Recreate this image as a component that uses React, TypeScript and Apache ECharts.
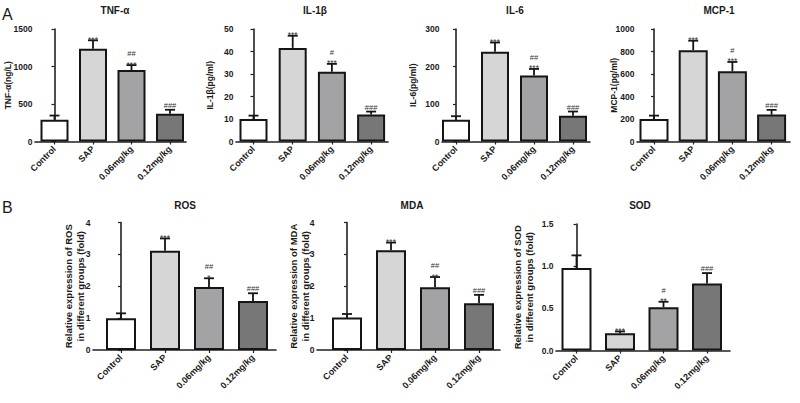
import React, { useEffect, useRef } from "react";
import * as echarts from "echarts";

// ---------- data ----------
const groups = ["Control", "SAP", "0.06mg/kg", "0.12mg/kg"];
const barColors = ["#ffffff", "#d6d6d6", "#a3a3a5", "#777777"];

const tnfMean = [290, 1237, 952, 369];
const tnfErr = [56, 112, 67, 54];
const il1bMean = [10, 41.6, 31, 12];
const il1bErr = [1.5, 5.4, 3.5, 1.3];
const il6Mean = [57.7, 239.6, 175.7, 69];
const il6Err = [9.8, 24.4, 17.8, 11];
const mcpMean = [200, 812, 624, 239];
const mcpErr = [30, 84, 83, 42];
const rosMean = [1.0, 3.11, 1.98, 1.535];
const rosErr = [0.15, 0.39, 0.27, 0.245];
const mdaMean = [1.02, 3.13, 1.97, 1.47];
const mdaErr = [0.11, 0.24, 0.32, 0.26];
const sodMean = [0.977, 0.206, 0.514, 0.795];
const sodErr = [0.151, 0.02, 0.064, 0.123];

const starsA = ["", "***", "***", ""];
const tnfHash = ["", "", "##", "###"];
const il1bHash = ["", "", "#", "###"];
const il6Hash = ["", "", "##", "###"];
const mcpHash = ["", "", "#", "###"];
const rosStars = ["", "***", "*", ""];
const rosHash = ["", "", "##", "###"];
const mdaStars = ["", "***", "**", ""];
const mdaHash = ["", "", "##", "###"];
const sodStars = ["", "***", "**", ""];
const sodHash = ["", "", "#", "###"];

const tickA1 = [0, 500, 1000, 1500];
const tickA2 = [0, 10, 20, 30, 40, 50];
const tickA3 = [0, 100, 200, 300];
const tickA4 = [0, 200, 400, 600, 800, 1000];
const tickB1 = [0, 1, 2, 3, 4];
const tickB3 = [0, 0.5, 1.0, 1.5];

// ---------- layout ----------
const FONT = 'Arial, "Liberation Sans", Helvetica, sans-serif';
const TXT = "#1a1a1a";

type Panel = {
  title: string;
  yTitle: string;
  mean: number[];
  err: number[];
  stars: string[];
  hashes: string[];
  ticks: number[];
  dec: number;
  L: number;
  R: number;
  c0: number;
  sp: number;
  top: number;
  zero: number;
  barW: number;
  tx: number;
  ty: number;
  yx: number;
  yFont: number;
};

const panels: Panel[] = [
  { title: "TNF-α", yTitle: "TNF-α(ng/L)", mean: tnfMean, err: tnfErr, stars: starsA, hashes: tnfHash, ticks: tickA1, dec: 0,
    L: 35, R: 186, c0: 54.5, sp: 38.5, top: 29, zero: 141.5, barW: 28, tx: 115, ty: 10, yx: 8, yFont: 8.5 },
  { title: "IL-1β", yTitle: "IL-1β(pg/ml)", mean: il1bMean, err: il1bErr, stars: starsA, hashes: il1bHash, ticks: tickA2, dec: 0,
    L: 236, R: 388, c0: 253.5, sp: 39.2, top: 29, zero: 141.5, barW: 28, tx: 315, ty: 10, yx: 209.5, yFont: 8.5 },
  { title: "IL-6", yTitle: "IL-6(pg/ml)", mean: il6Mean, err: il6Err, stars: starsA, hashes: il6Hash, ticks: tickA3, dec: 0,
    L: 442, R: 590, c0: 456, sp: 39, top: 29, zero: 141.5, barW: 28, tx: 515, ty: 10, yx: 413, yFont: 8.5 },
  { title: "MCP-1", yTitle: "MCP-1(pg/ml)", mean: mcpMean, err: mcpErr, stars: starsA, hashes: mcpHash, ticks: tickA4, dec: 0,
    L: 637, R: 790, c0: 654, sp: 39.2, top: 29, zero: 141.5, barW: 29, tx: 719, ty: 10, yx: 613.5, yFont: 8.5 },
  { title: "ROS", yTitle: "Relative expression of ROS\nin different groups (fold)", mean: rosMean, err: rosErr, stars: rosStars, hashes: rosHash, ticks: tickB1, dec: 0,
    L: 93, R: 276, c0: 121, sp: 44, top: 222.5, zero: 350, barW: 30, tx: 185, ty: 205, yx: 74.5, yFont: 9.5 },
  { title: "MDA", yTitle: "Relative expression of MDA\nin different groups (fold)", mean: mdaMean, err: mdaErr, stars: mdaStars, hashes: mdaHash, ticks: tickB1, dec: 0,
    L: 317, R: 500, c0: 347, sp: 44, top: 222.5, zero: 350, barW: 30, tx: 412, ty: 205, yx: 299, yFont: 9.5 },
  { title: "SOD", yTitle: "Relative expression of SOD\nin different groups (fold)", mean: sodMean, err: sodErr, stars: sodStars, hashes: sodHash, ticks: tickB3, dec: 1,
    L: 556, R: 730, c0: 576.5, sp: 43.5, top: 224, zero: 350.5, barW: 30, tx: 640, ty: 205, yx: 523.5, yFont: 9.5 },
];

function buildOption() {
  const grid: any[] = [];
  const xAxis: any[] = [];
  const yAxis: any[] = [];
  const series: any[] = [];
  const graphic: any[] = [];

  panels.forEach((p, i) => {
    grid.push({ left: p.L, top: p.top, width: p.R - p.L, height: p.zero - p.top, containLabel: false });
    const idx = [0, 1, 2, 3];
    const yMax = p.ticks[p.ticks.length - 1];
    xAxis.push({
      type: "value",
      gridIndex: i,
      min: (p.L - p.c0) / p.sp,
      max: (p.R - p.c0) / p.sp,
      splitLine: { show: false },
      axisLine: { show: true, lineStyle: { color: "#222", width: 1.6 } },
      axisTick: { show: true, customValues: idx, length: 3, lineStyle: { color: "#222", width: 1.2 } },
      axisLabel: {
        show: true,
        customValues: idx,
        hideOverlap: false,
        formatter: (v: number) => groups[Math.round(v)] ?? "",
        rotate: 45,
        margin: 6,
        fontSize: 9,
        fontWeight: "bold",
        fontFamily: FONT,
        color: TXT,
      },
    });
    yAxis.push({
      type: "value",
      gridIndex: i,
      min: 0,
      max: yMax,
      splitLine: { show: false },
      axisLine: { show: true, lineStyle: { color: "#222", width: 1.6 } },
      axisTick: { show: true, customValues: p.ticks, length: 3, lineStyle: { color: "#222", width: 1.2 } },
      axisLabel: {
        show: true,
        customValues: p.ticks,
        hideOverlap: false,
        showMinLabel: true,
        showMaxLabel: true,
        fontSize: 8.5,
        fontWeight: "bold",
        fontFamily: FONT,
        color: TXT,
        margin: 2.5,
        formatter: (v: number) => v.toFixed(p.dec),
      },
    });
    series.push({
      type: "bar",
      xAxisIndex: i,
      yAxisIndex: i,
      barWidth: p.barW,
      data: p.mean.map((m, k) => ({
        value: [k, m],
        itemStyle: { color: barColors[k], borderColor: "#151515", borderWidth: 2 },
      })),
      z: 2,
    });
    series.push({
      type: "custom",
      xAxisIndex: i,
      yAxisIndex: i,
      z: 3,
      data: p.mean.map((m, k) => [k, m, p.err[k]]),
      renderItem: (params: any, api: any) => {
        const k = params.dataIndex;
        const x = api.value(0);
        const m = api.value(1);
        const e = api.value(2);
        const p0 = api.coord([x, m]);
        const p1 = api.coord([x, m + e]);
        const capY = p1[1];
        const children: any[] = [
          { type: "line", shape: { x1: p0[0], y1: p0[1], x2: p1[0], y2: capY }, style: { stroke: "#151515", lineWidth: 1.8 } },
          { type: "line", shape: { x1: p1[0] - 5, y1: capY, x2: p1[0] + 5, y2: capY }, style: { stroke: "#151515", lineWidth: 1.8 } },
        ];
        const st = p.stars[k];
        const hs = p.hashes[k];
        if (st) {
          children.push({
            type: "text",
            style: { text: st, x: p1[0], y: capY - 5, textAlign: "center", textVerticalAlign: "top", fontSize: 8.5, fontFamily: FONT, fill: "#333" },
          });
        }
        if (hs) {
          children.push({
            type: "text",
            style: {
              text: hs,
              x: p1[0],
              y: st ? capY - 7.5 : capY - 0.5,
              textAlign: "center",
              textVerticalAlign: "bottom",
              fontSize: 7.5,
              fontFamily: FONT,
              fill: "#333",
            },
          });
        }
        return { type: "group", children };
      },
    });

    graphic.push({
      type: "text",
      style: { text: p.title, x: p.tx, y: p.ty, textAlign: "center", textVerticalAlign: "middle", fontSize: 10, fontWeight: "bold", fontFamily: FONT, fill: TXT },
    });
    graphic.push({
      type: "text",
      x: p.yx,
      y: (p.top + p.zero) / 2,
      rotation: Math.PI / 2,
      silent: true,
      style: {
        text: p.yTitle,
        x: 0,
        y: 0,
        textAlign: "center",
        textVerticalAlign: "middle",
        fontSize: p.yFont,
        lineHeight: 12,
        fontWeight: "bold",
        fontFamily: FONT,
        fill: TXT,
      },
    });
  });

  graphic.push({ type: "text", style: { text: "A", x: 2, y: 14, textVerticalAlign: "middle", fontSize: 16, fontFamily: FONT, fill: TXT } });
  graphic.push({ type: "text", style: { text: "B", x: 2, y: 207.5, textVerticalAlign: "middle", fontSize: 16, fontFamily: FONT, fill: TXT } });

  return {
    animation: false,
    backgroundColor: "#ffffff",
    grid,
    xAxis,
    yAxis,
    series,
    graphic,
  };
}

export default function App() {
  const ref = useRef<HTMLDivElement>(null);
  useEffect(() => {
    if (!ref.current) return;
    const chart = echarts.init(ref.current, undefined, { renderer: "svg" });
    chart.setOption(buildOption() as any);
    return () => chart.dispose();
  }, []);
  return <div ref={ref} style={{ position: "absolute", left: 0, top: 0, width: 800, height: 403, background: "#fff" }} />;
}
